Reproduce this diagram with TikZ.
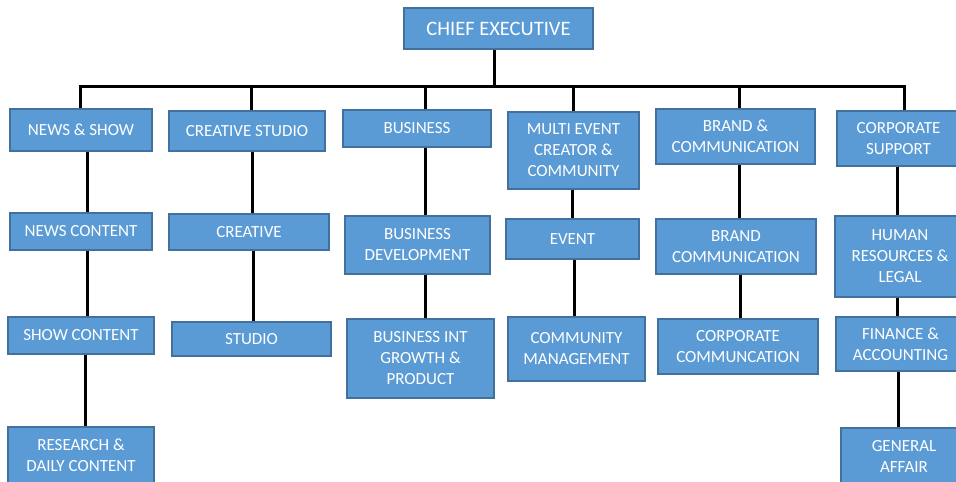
\documentclass[tikz,border=0pt]{standalone}
\usepackage{fontspec}
\setmainfont{Carlito}
\definecolor{boxfill}{HTML}{5B9BD5}
\definecolor{boxline}{HTML}{41719C}
\tikzset{
  orgbox/.style={draw=boxline, line width=1.2pt, fill=boxfill, text=white,
    align=center, inner sep=0pt, font=\fontsize{17}{21}\selectfont},
  conn/.style={draw=black, line width=3pt},
}
\newcommand{\bx}[6]{%
  \node[orgbox, minimum width={(#4-#2)*1pt}, minimum height={(#5-#3)*1pt}]
    (#1) at ({(#2+#4)/2},{(#3+#5)/2}) {#6};}
\begin{document}
\begin{tikzpicture}[x=1pt,y=-1pt]
\useasboundingbox (0,0) rectangle (956,482);
\clip (0,0) rectangle (956,482);
\fill[white] (0,0) rectangle (956,482);
\coordinate (busL) at (80,86);
\coordinate (busR) at (904,86);
% boxes
\bx{chief}{404}{8}{593}{49}{\fontsize{20.5}{24}\selectfont CHIEF EXECUTIVE}
\bx{ns}{10}{109}{152}{151}{NEWS \& SHOW}
\bx{cs}{169}{111}{325}{151}{CREATIVE STUDIO}
\bx{bu}{343}{110}{491}{147}{BUSINESS}
\bx{me}{508}{112}{639}{189}{MULTI EVENT\\CREATOR \&\\COMMUNITY}
\bx{bc}{656}{109}{815}{164}{BRAND \&\\COMMUNICATION}
\bx{csp}{837}{111}{960}{166}{CORPORATE\\SUPPORT}
\bx{nc}{10}{213}{152}{250}{NEWS CONTENT}
\bx{cr}{169}{214}{329}{250}{CREATIVE}
\bx{bd}{345}{216}{490}{274}{BUSINESS\\DEVELOPMENT}
\bx{ev}{506}{219}{639}{259}{EVENT}
\bx{bcm}{656}{219}{816}{274}{BRAND\\COMMUNICATION}
\bx{hr}{835}{216}{965}{297}{HUMAN\\RESOURCES \&\\LEGAL}
\bx{sc}{8}{317}{154}{354}{SHOW CONTENT}
\bx{st}{172}{322}{331}{356}{STUDIO}
\bx{bi}{347}{319}{494}{398}{BUSINESS INT\\GROWTH \&\\PRODUCT}
\bx{cm}{508}{317}{645}{381}{COMMUNITY\\MANAGEMENT}
\bx{cc}{658}{319}{818}{374}{CORPORATE\\COMMUNCATION}
\bx{fa}{836}{317}{965}{371}{FINANCE \&\\ACCOUNTING}
\bx{rd}{8}{427}{154}{483}{RESEARCH \&\\DAILY CONTENT}
\bx{ga}{841}{428}{967}{485}{GENERAL\\AFFAIR}
% bus and stems
\draw[conn, line join=miter] (ns.north -| busL) -- (busL) -- (busR) -- (csp.north -| busR);
\draw[conn] (chief.south -| 494,0) -- (494,86);
\draw[conn] (cs.north -| 251,0) -- (251,86);
\draw[conn] (bu.north -| 425,0) -- (425,86);
\draw[conn] (me.north -| 573,0) -- (573,86);
\draw[conn] (bc.north -| 739,0) -- (739,86);
% column links
\draw[conn] (ns.south -| 87,0) -- (nc.north -| 87,0);
\draw[conn] (nc.south -| 87,0) -- (sc.north -| 87,0);
\draw[conn] (sc.south -| 85,0) -- (rd.north -| 85,0);
\draw[conn] (cs.south -| 252,0) -- (cr.north -| 252,0);
\draw[conn] (cr.south -| 253,0) -- (st.north -| 253,0);
\draw[conn] (bu.south -| 425,0) -- (bd.north -| 425,0);
\draw[conn] (bd.south -| 425,0) -- (bi.north -| 425,0);
\draw[conn] (me.south -| 572,0) -- (ev.north -| 572,0);
\draw[conn] (ev.south -| 574,0) -- (cm.north -| 574,0);
\draw[conn] (bc.south -| 739,0) -- (bcm.north -| 739,0);
\draw[conn] (bcm.south -| 740,0) -- (cc.north -| 740,0);
\draw[conn] (csp.south -| 897,0) -- (hr.north -| 897,0);
\draw[conn] (hr.south -| 897,0) -- (fa.north -| 897,0);
\draw[conn] (fa.south -| 898,0) -- (ga.north -| 898,0);
\end{tikzpicture}
\end{document}
